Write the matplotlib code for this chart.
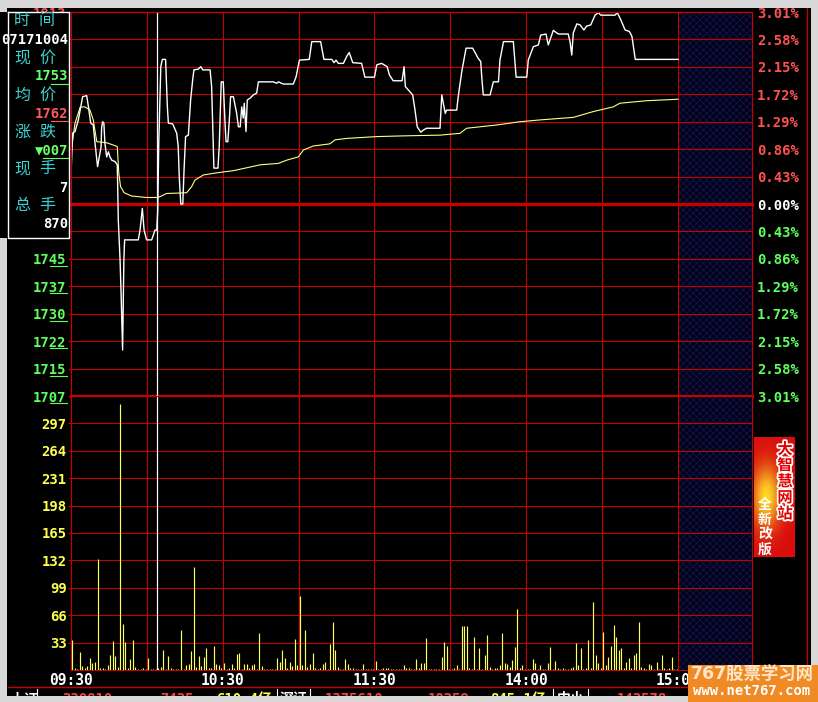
import numpy as np
import matplotlib.pyplot as plt
from matplotlib.lines import Line2D
from matplotlib.patches import Rectangle
import matplotlib.patheffects as pe

plt.rcParams['font.family'] = ['DejaVu Sans Mono', 'Noto Sans CJK SC']
plt.rcParams['hatch.linewidth'] = 0.5

# ---------------- data ----------------
prev_close = 1760
step = 0.0043          # 0.43% per grid row
n_rows = 7

# minute of session (0 = 09:30, 120 = 13:00, 240 = 15:00) and last price
price_t = [0.0, 0.7, 1.6, 2.9, 4.6, 6.2, 6.9, 7.8, 8.8, 9.5, 10.5, 11.2, 11.9, 12.1, 12.5,
           13.0, 13.4, 14.1, 14.8, 15.4, 16.1, 17.4, 18.3, 18.7, 19.4, 19.8, 20.2, 20.4,
           20.7, 20.9, 21.2, 26.6, 27.3, 28.2, 28.9, 29.9, 31.9, 33.2, 33.9, 34.3, 34.7,
           35.5, 36.1, 37.4, 38.1, 38.5, 40.2, 41.8, 42.4, 42.8, 43.4, 44.2, 44.7, 45.3,
           46.4, 47.3, 48.1, 48.6, 50.3, 51.3, 52.1, 55.0, 55.6, 56.3, 56.5, 58.1, 58.6,
           59.4, 60.2, 60.9, 61.3, 62.0, 62.6, 63.1, 64.2, 65.5, 66.2, 66.9, 67.5, 68.1,
           68.5, 69.2, 69.7, 70.8, 72.1, 73.4, 74.1, 80.0, 81.3, 82.0, 83.9, 87.9, 89.0,
           90.3, 94.2, 95.2, 98.7, 100.0, 103.1, 104.0, 104.8, 105.7, 107.7, 109.0, 110.0,
           111.4, 114.9, 116.2, 120.0, 120.9, 122.8, 125.0, 125.9, 127.4, 130.9, 131.7,
           132.2, 134.0, 135.1, 136.0, 136.9, 138.3, 139.3, 140.6, 145.9, 146.6, 147.2,
           148.0, 148.5, 152.5, 153.1, 154.5, 156.2, 158.8, 161.0, 162.0, 162.4, 163.0,
           165.7, 167.0, 169.0, 169.6, 171.0, 174.9, 176.0, 180.2, 180.8, 182.8, 184.8,
           185.7, 187.8, 188.7, 190.7, 192.7, 196.6, 197.3, 198.0, 198.6, 200.0, 201.3,
           202.8, 203.9, 205.5, 207.2, 208.5, 209.5, 215.1, 216.0, 217.4, 219.1, 220.8,
           221.8, 223.1, 240.0]
price_v = [1768.6, 1779.6, 1780.0, 1783.2, 1789.6, 1789.9, 1786.8, 1782.3, 1781.8, 1776.8,
           1770.3, 1773.0, 1775.8, 1781.0, 1782.7, 1782.3, 1776.8, 1773.0, 1774.4, 1773.0,
           1772.1, 1771.7, 1770.8, 1755.6, 1744.5, 1735.4, 1725.2, 1719.7, 1735.4, 1744.5,
           1750.1, 1750.1, 1752.8, 1758.8, 1752.8, 1750.1, 1750.1, 1752.8, 1752.8, 1758.3,
           1776.7, 1797.9, 1799.9, 1799.9, 1786.8, 1782.3, 1782.1, 1779.5, 1775.8, 1767.5,
           1760.0, 1760.0, 1769.4, 1778.6, 1779.0, 1788.7, 1794.2, 1797.0, 1797.2, 1797.9,
           1797.0, 1797.0, 1792.4, 1774.4, 1769.9, 1769.9, 1775.8, 1793.7, 1793.7, 1782.3,
           1777.2, 1777.2, 1783.2, 1789.6, 1789.6, 1785.0, 1781.3, 1781.3, 1786.8, 1783.7,
           1787.8, 1780.0, 1788.7, 1789.2, 1790.1, 1790.6, 1793.7, 1793.7, 1793.3, 1793.7,
           1793.1, 1793.1, 1795.1, 1799.7, 1799.9, 1804.8, 1804.8, 1799.9, 1799.9, 1799.0,
           1799.7, 1798.8, 1798.8, 1800.7, 1801.8, 1799.0, 1798.8, 1795.0, 1795.0, 1798.4,
           1798.8, 1797.9, 1795.6, 1794.0, 1794.0, 1797.9, 1792.4, 1791.0, 1790.1, 1786.0,
           1781.3, 1779.8, 1780.4, 1780.9, 1780.9, 1790.1, 1787.8, 1785.0, 1785.9, 1785.9,
           1789.6, 1796.5, 1803.0, 1803.0, 1800.2, 1799.3, 1795.1, 1790.1, 1790.1, 1793.7,
           1793.7, 1799.7, 1804.8, 1804.8, 1795.0, 1795.0, 1799.7, 1803.4, 1803.9, 1806.6,
           1806.9, 1803.9, 1807.9, 1806.9, 1806.9, 1804.8, 1801.1, 1807.2, 1809.7, 1809.4,
           1808.0, 1809.1, 1809.4, 1812.1, 1812.8, 1812.1, 1812.1, 1812.8, 1810.8, 1808.0,
           1807.6, 1806.2, 1799.9, 1799.9]

# average price line
avg_t = [0.3, 1.6, 3.6, 5.5, 7.5, 8.8, 10.2, 14.1, 17.8, 18.3, 18.9, 19.6, 21.0, 24.0,
         29.9, 34.5, 37.8, 45.7, 47.7, 49.0, 52.3, 57.6, 64.2, 69.5, 74.7, 82.0, 85.3,
         89.9, 91.9, 95.8, 102.4, 104.4, 109.0, 120.9, 131.4, 145.9, 153.8, 156.4, 168.3,
         177.5, 185.4, 198.6, 206.5, 214.4, 217.0, 227.6, 240.0]
avg_v = [1776.0, 1782.3, 1786.7, 1786.8, 1785.9, 1783.2, 1777.2, 1776.9, 1776.0, 1775.8,
         1768.5, 1764.8, 1763.1, 1762.2, 1761.8, 1761.8, 1762.9, 1763.1, 1764.8, 1766.6,
         1768.0, 1768.6, 1769.2, 1770.0, 1770.8, 1771.2, 1772.1, 1773.0, 1774.9, 1776.0,
         1776.6, 1777.7, 1778.1, 1778.6, 1778.8, 1779.0, 1779.5, 1780.9, 1781.8, 1782.7,
         1783.2, 1783.9, 1785.5, 1786.8, 1787.8, 1788.5, 1788.9]

# volume per minute (240 minutes)
volume = [36, 2, 1, 22, 5, 2, 5, 14, 8, 10,
          134, 2, 3, 1, 6, 18, 35, 17, 4, 320,
          55, 34, 2, 13, 36, 4, 1, 1, 2, 1,
          14, 1, 1, 1, 2, 4, 24, 1, 17, 2,
          1, 1, 1, 48, 1, 6, 7, 23, 124, 4,
          17, 5, 16, 26, 2, 2, 29, 7, 6, 3,
          8, 1, 2, 7, 2, 19, 20, 1, 7, 7,
          3, 6, 7, 1, 44, 5, 1, 1, 1, 1,
          1, 14, 10, 24, 14, 2, 10, 5, 37, 6,
          89, 6, 48, 4, 7, 21, 2, 1, 3, 7,
          10, 1, 31, 58, 24, 4, 1, 1, 13, 7,
          2, 2, 1, 1, 1, 7, 1, 1, 1, 1,
          11, 1, 1, 3, 3, 3, 1, 1, 1, 1,
          1, 6, 2, 2, 1, 1, 13, 2, 9, 9,
          38, 1, 1, 1, 1, 1, 16, 34, 29, 1,
          1, 2, 6, 1, 53, 53, 53, 2, 1, 40,
          1, 27, 1, 18, 42, 4, 1, 2, 3, 6,
          45, 8, 7, 4, 12, 28, 73, 2, 6, 1,
          1, 1, 13, 9, 1, 6, 1, 1, 9, 28,
          1, 11, 2, 1, 2, 1, 1, 3, 4, 33,
          6, 27, 1, 2, 36, 3, 82, 18, 9, 2,
          46, 6, 16, 29, 54, 40, 24, 26, 3, 10,
          15, 3, 18, 20, 58, 4, 2, 1, 7, 6,
          1, 10, 1, 18, 2, 1, 2, 16, 1, 1]
vol_step = 33
vol_rows = 10

time_ticks = [0, 60, 120, 180, 240]
time_labels = ['09:30', '10:30', '11:30', '14:00', '15:00']
cursor_t = 34.1

info_names = ['时间', '现价', '均价', '涨跌', '现手', '总手']
info_values = ['07171004', '1753', '1762', '▼007', '7', '870']
info_colors = ['white', '#66FF66', '#FF5A5A', '#66FF66', 'white', 'white']
info_underline = [0, 2, 2, 3, 0, 0]

market_items = [(10, '上证', 'white'), (62, '330810', '#FF4040'), (160, '7435', '#FF4040'),
                (216, '610.4亿', '#FFFF40'), (280, '深证', 'white'), (325, '1375610', '#FF4040'),
                (428, '10259', '#FF4040'), (490, '845.1亿', '#FFFF40'), (557, '中小', 'white'),
                (617, '143578', '#FF4040')]

# ---------------- figure ----------------
W, H = 818, 702
GRID = '#C40000'
UP = '#FF5050'
DOWN = '#5CFF5C'

fig = plt.figure(figsize=(W / 100, H / 100), dpi=100, facecolor='black')


def fx(x):
    return x / W


def fy(y):
    return 1 - y / H


def rect_px(x0, y0, x1, y1, **kw):
    r = Rectangle((fx(x0), fy(y1)), (x1 - x0) / W, (y1 - y0) / H,
                  transform=fig.transFigure, **kw)
    fig.add_artist(r)
    return r


def line_px(xs, ys, **kw):
    fig.add_artist(Line2D([fx(x) for x in xs], [fy(y) for y in ys], **kw))


x_end = 240 * (752 - 71) / (678 - 71)

ax_p = fig.add_axes([fx(71), fy(396), fx(752) - fx(71), fy(12) - fy(396)])
ax_v = fig.add_axes([fx(71), fy(670), fx(752) - fx(71), fy(396) - fy(670)])

for ax in (ax_p, ax_v):
    ax.set_facecolor('black')
    ax.set_xlim(0, x_end)
    for s in ax.spines.values():
        s.set_color(GRID)
        s.set_linewidth(0.8)
    ax.axvspan(240, x_end, facecolor='#020214', edgecolor='#15155e', hatch='xxxxx',
               lw=0, zorder=0.5)
    for t in range(0, 241, 30):
        ax.axvline(t, color=GRID, lw=0.8, zorder=1)
    ax.axvline(cursor_t, color='white', lw=0.9, zorder=4)

# price panel
ks = list(range(-n_rows, n_rows + 1))
levels = [prev_close * (1 + k * step) for k in ks]
ax_p.set_ylim(levels[0], levels[-1])
for k, lv in zip(ks, levels):
    ax_p.axhline(lv, color=GRID, lw=2.4 if k in (0, -n_rows) else 0.8, zorder=1.5,
                 clip_on=False)
ax_p.plot(avg_t, avg_v, color='#FFFF80', lw=0.8, zorder=5)
ax_p.plot(price_t, price_v, color='white', lw=1.0, zorder=6)


def level_color(k):
    return UP if k > 0 else ('white' if k == 0 else DOWN)


# labels that sit fully behind the info panel are left blank
ax_p.set_xticks([])
ax_p.set_yticks(levels)
ax_p.set_yticklabels([f'{round(lv)}' if (k <= -2 or k == n_rows) else ''
                      for k, lv in zip(ks, levels)])
ax_p.tick_params(axis='y', length=2.2, width=0.8, color=GRID, pad=1, labelsize=10)
for lab, k in zip(ax_p.get_yticklabels(), ks):
    lab.set_color(level_color(k))
    lab.set_fontweight('bold')

ax_r = ax_p.twinx()
ax_r.set_ylim(levels[0], levels[-1])
ax_r.set_yticks(levels)
ax_r.set_yticklabels([f'{abs(k) * step * 100:.2f}%' for k in ks])
ax_r.tick_params(axis='y', length=0, pad=3.5, labelsize=10)
for s in ax_r.spines.values():
    s.set_color(GRID)
    s.set_linewidth(0.8)
for lab, k in zip(ax_r.get_yticklabels(), ks):
    lab.set_color(level_color(k))
    lab.set_fontweight('bold')

# volume panel
vol_levels = [vol_step * i for i in range(1, vol_rows)]
ax_v.set_ylim(0, vol_step * vol_rows)
for lv in vol_levels:
    ax_v.axhline(lv, color=GRID, lw=0.8, zorder=1.5)
ax_v.vlines(np.arange(len(volume)) + 0.5, 0, volume, colors='#FFFF5A', lw=0.85, zorder=3)
ax_v.set_yticks(vol_levels)
ax_v.tick_params(axis='y', length=2.2, width=0.8, color=GRID, pad=1, labelsize=10,
                 labelcolor='#FFFF50')
for lab in ax_v.get_yticklabels():
    lab.set_fontweight('bold')
ax_v.set_xticks(time_ticks)
ax_v.set_xticklabels(time_labels)
ax_v.tick_params(axis='x', length=0, pad=2.5, labelsize=10.5, labelcolor='white')
for lab in ax_v.get_xticklabels():
    lab.set_fontweight('bold')

# underline last two digits of the lower price labels
char_w = 8.36
lab_right = 71 - (2.2 + 1) * 100 / 72
for k, lv in zip(ks, levels):
    if k < -1:
        y = H - ax_p.transData.transform((0, lv))[1] + 7
        line_px([lab_right - 2 * char_w, lab_right], [y, y], color=DOWN, lw=0.8, zorder=3)

# frame lines
line_px([8, 806], [686.7, 686.7], color=GRID, lw=1.0, zorder=3)
line_px([806.5, 806.5], [8, 697], color=GRID, lw=1.0, zorder=3)

# bottom market row (cut off by window edge)
for x, s, c in market_items:
    fig.text(fx(x), fy(699), s, color=c, fontsize=10, fontweight='bold',
             ha='left', va='center', zorder=4)
for x in (36.7, 277, 310, 553, 588):
    line_px([x, x], [689, 697], color='white', lw=0.8, zorder=4)

# window borders
rect_px(0, 0, W, 8, facecolor='#D8D8D8', edgecolor='none', zorder=10)
rect_px(0, 0, 7, H, facecolor='#D8D8D8', edgecolor='none', zorder=10)
rect_px(811, 0, W, H, facecolor='#D8D8D8', edgecolor='none', zorder=10)
rect_px(0, 696, W, H, facecolor='#D8D8D8', edgecolor='none', zorder=10)

# info panel
rect_px(0, 12, 69, 238, facecolor='black', edgecolor='none', zorder=11)
line_px([8, 69, 69, 8, 8], [12, 12, 238, 238, 12], color='white', lw=1.0, zorder=12)
row_y = 21
for name, val, col, ul in zip(info_names, info_values, info_colors, info_underline):
    fig.text(fx(14), fy(row_y), name[0], color='#3CD2D2', fontsize=11.5,
             family='Noto Sans CJK SC', ha='left', va='center', zorder=13)
    fig.text(fx(39), fy(row_y), name[1], color='#3CD2D2', fontsize=11.5,
             family='Noto Sans CJK SC', ha='left', va='center', zorder=13)
    fig.text(fx(68), fy(row_y + 18.5), val, color=col, fontsize=10, fontweight='bold',
             ha='right', va='center', zorder=13)
    if ul:
        uy = row_y + 18.5 + 7
        line_px([68 - ul * char_w, 68], [uy, uy], color=col, lw=0.8, zorder=13)
    row_y += 37

# advert banner
ax_b = fig.add_axes([fx(754), fy(557), fx(795) - fx(754), fy(437) - fy(557)], zorder=14)
gy, gx = np.mgrid[0:1:120j, 0:1:41j]
glow = np.exp(-(((gx - 0.3) / 0.35) ** 2 + ((gy - 0.5) / 0.25) ** 2))
img = np.dstack([0.85 + 0.15 * glow, 0.05 + 0.8 * glow, 0.05 + 0.1 * glow])
ax_b.imshow(np.clip(img, 0, 1), aspect='auto', extent=(0, 1, 0, 1))
ax_b.set_axis_off()
for i, ch in enumerate('大智慧网站'):
    t = fig.text(fx(785), fy(449 + 16.1 * i), ch, color='#E00000', fontsize=11,
                 fontweight='bold', family='Noto Sans CJK SC', ha='center', va='center',
                 zorder=15)
    t.set_path_effects([pe.withStroke(linewidth=2.5, foreground='white')])
for i, ch in enumerate('全新改版'):
    fig.text(fx(765), fy(505 + 15 * i), ch, color='white', fontsize=10,
             fontweight='bold', family='Noto Sans CJK SC', ha='center', va='center',
             zorder=15)

# watermark
rect_px(688, 665, W, H, facecolor='#F08A24', edgecolor='none', zorder=16)
fig.text(fx(752), fy(675), '767股票学习网', color='#FFE6C8', fontsize=12.5,
         family=['DejaVu Sans', 'Noto Sans CJK SC'], fontweight='bold',
         ha='center', va='center', zorder=17)
fig.text(fx(752), fy(691), 'www.net767.com', color='white', fontsize=10,
         fontweight='bold', ha='center', va='center', zorder=17)

fig.savefig('out.png', dpi=100, facecolor='black')
